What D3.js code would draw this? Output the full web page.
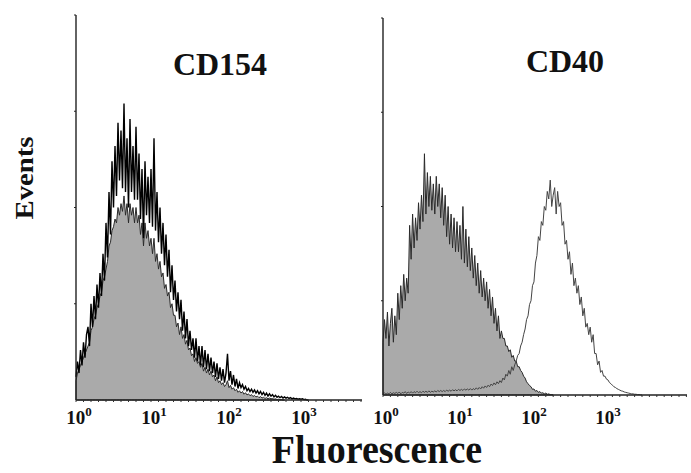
<!DOCTYPE html>
<html lang="en">
<head>
  <meta charset="UTF-8">
  <title>CD154 / CD40 histograms</title>
  <style>
    body { margin: 0; padding: 0; background: #fff; }
    svg { display: block; }
    text { font-family: "Liberation Serif", "Times New Roman", serif; font-weight: bold; fill: #111; }
  </style>
</head>
<body>
<svg width="691" height="473"></svg>
<script src="https://d3js.org/d3.v7.min.js"></script>
<script>
// channel width in decades of fluorescence (log10)
const binStep = 0.02;

// % of max events, one value per channel starting at 10^0
const cd154Control = [
  5, 7, 8, 9, 10, 11, 12, 13, 14, 15,
  18, 19, 21, 22, 24, 25, 27, 28, 31, 32,
  34, 36, 40, 41, 44, 45, 47, 46, 50, 48,
  51, 49, 53, 48, 51, 46, 51, 48, 50, 46,
  50, 46, 48, 43, 46, 40, 46, 42, 44, 40,
  42, 38, 42, 36, 38, 34, 36, 32, 33, 29,
  30, 27, 28, 24, 25, 22, 22, 19, 20, 17,
  19, 16, 17, 14.5, 15.5, 13, 13.5, 11.5, 12, 10,
  11, 9.5, 10, 8.5, 9.5, 7.5, 8.5, 7, 8, 6.5,
  7.5, 6, 6.5, 5, 6, 4.5, 5, 4, 4.5, 3.5,
  4, 5, 3.2, 3.8, 2.8, 3.2, 2.4, 2.8, 2, 2.4,
  1.8, 2.2, 1.5, 1.9, 1.3, 1.6, 1.1, 1.4, 0.9, 1.2,
  0.8, 1, 0.6, 0.9, 0.5, 0.7, 0.4, 0.6, 0.3, 0.5,
  0.3, 0.4, 0.2, 0.3, 0.1, 0.2, 0.1, 0.1, 0, 0];
const cd154Stain = [
  6, 10, 7, 13, 9, 15, 11, 17, 19, 14,
  25, 19, 27, 21, 30, 24, 33, 27, 38, 31,
  46, 37, 54, 43, 62, 50, 66, 53, 72, 57,
  70, 55, 77, 54, 68, 50, 73, 54, 66, 52,
  71, 52, 64, 47, 60, 42, 62, 48, 58, 46,
  60, 45, 68, 44, 54, 41, 50, 38, 46, 35,
  43, 32, 39, 28, 35, 26, 31, 23, 28, 21,
  26, 18, 23, 16, 21, 14, 18, 13, 16, 11,
  16, 10, 14, 9, 14, 8.5, 13, 8, 12, 7.5,
  11, 7, 10, 6, 9.5, 5.5, 8.5, 5, 8, 4.5,
  7, 12, 5, 7.5, 4, 6.5, 3.5, 5.5, 3, 4.5,
  3.2, 4, 2.8, 3.5, 2.4, 3, 2.2, 2.8, 2, 2.6,
  1.8, 2.4, 1.6, 2.2, 1.4, 2, 1.2, 1.8, 1, 1.6,
  1, 1.4, 0.8, 1.2, 0.7, 1, 0.6, 0.9, 0.5, 0.8,
  0.5, 0.7, 0.4, 0.6, 0.3, 0.5, 0.3, 0.4, 0.2, 0.3,
  0.2, 0.3, 0.1, 0.2, 0, 0];

const cd40Control = [
  14, 20, 15, 22, 13, 19, 23, 14, 21, 16,
  27, 20, 29, 23, 32, 25, 31, 27, 45, 36,
  48, 39, 47, 41, 51, 44, 53, 46, 64, 48,
  59, 50, 58, 49, 56, 48, 58, 50, 56, 47,
  55, 45, 53, 42, 50, 40, 48, 39, 47, 38,
  46, 38, 45, 36, 50, 35, 44, 34, 42, 33,
  39, 31, 37, 29, 35, 27, 33, 26, 31, 25,
  30, 23, 28, 21, 26, 19, 23, 17, 21, 15,
  17, 15, 15, 13, 13, 11.5, 12, 10, 10.5, 9,
  9, 7.5, 7.5, 6.5, 6, 5, 4.5, 3.5, 3, 2.5,
  2.2, 1.5, 1.6, 1, 1.2, 0.7, 0.9, 0.5, 0.6, 0.3,
  0.5, 0.2, 0.3, 0.1, 0.1, 0];
const cd40Stain = [
  0.3, 0.6, 0.2, 0.5, 0.3, 0.7, 0.3, 0.6, 0.4, 0.7,
  0.4, 0.8, 0.3, 0.7, 0.5, 0.9, 0.4, 0.8, 0.5, 0.9,
  0.5, 0.9, 0.6, 1, 0.6, 0.9, 0.6, 1, 0.7, 1,
  0.7, 1.1, 0.7, 1, 0.8, 1.1, 0.8, 1.2, 0.9, 1.2,
  0.9, 1.2, 0.9, 1.3, 1, 1.3, 1, 1.4, 1.1, 1.4,
  1.1, 1.5, 1.2, 1.5, 1.2, 1.6, 1.3, 1.6, 1.3, 1.7,
  1.3, 1.7, 1.4, 1.9, 1.5, 2, 1.6, 2.2, 1.8, 2.4,
  2, 2.6, 2.2, 2.9, 2.5, 3.2, 2.7, 3.5, 3, 3.8,
  3.3, 4.5, 4, 5.5, 5, 6.5, 5.5, 7.5, 6.5, 8,
  9, 10.5, 11, 13, 14, 16, 17.5, 20, 21, 24,
  25, 29, 30, 35, 37, 42, 41, 46, 45, 50,
  49, 54, 52, 57, 50, 53, 55, 48, 54, 50,
  51, 45, 46, 40, 41, 36, 38, 32, 35, 29,
  31, 27, 29, 24, 26, 21, 23, 18, 19, 16,
  18, 14, 16, 11, 11, 8, 9, 6, 6.5, 5,
  5, 4.2, 4, 3.3, 3, 2.6, 2.2, 2, 1.7, 1.5,
  1.3, 1.1, 1, 0.8, 0.7, 0.6, 0.5, 0.4, 0.3, 0.3,
  0.2, 0.2, 0.1, 0.1, 0.05, 0];

const decadeExponents = [0, 1, 2, 3];
const panelTitles = ["CD154", "CD40"];

const svg = d3.select("svg");

const panels = [
  {title: panelTitles[0], x0: 76, x1: 362, decade: 75, top: 15, base: 400, titleX: 220, titleY: 75,
   filled: cd154Control, open: cd154Stain, openColor: "#000", openWidth: 1.4},
  {title: panelTitles[1], x0: 383, x1: 687, decade: 74, top: 18, base: 395, titleX: 565, titleY: 72,
   filled: cd40Control, open: cd40Stain, openColor: "#444", openWidth: 1}
];

panels.forEach(p => {
  const maxDec = (p.x1 - p.x0) / p.decade;
  const x = d3.scaleLog().domain([1, Math.pow(10, maxDec)]).range([p.x0, p.x1]);
  const y = d3.scaleLinear().domain([0, 100]).range([p.base, p.top]);
  const g = svg.append("g");

  const pts = arr => arr.map((v, i) => [x(Math.pow(10, i * binStep)), v]);

  const area = d3.area().x(d => d[0]).y0(y(0)).y1(d => y(d[1]));
  const line = d3.line().x(d => d[0]).y(d => y(d[1]));

  g.append("path")
    .datum(pts(p.filled))
    .attr("d", area)
    .attr("fill", "#aaaaaa")
    .attr("stroke", "#2a2a2a")
    .attr("stroke-width", 1);

  g.append("path")
    .datum(pts(p.open))
    .attr("d", line)
    .attr("fill", "none")
    .attr("stroke", p.openColor)
    .attr("stroke-width", p.openWidth);

  // axes
  g.append("line")
    .attr("x1", p.x0).attr("x2", p.x0)
    .attr("y1", y(0)).attr("y2", y(100))
    .attr("stroke", "#222").attr("stroke-width", 1.4);
  g.append("line")
    .attr("x1", p.x0).attr("x2", p.x1)
    .attr("y1", y(0)).attr("y2", y(0))
    .attr("stroke", "#222").attr("stroke-width", 1.4);

  // y ticks at quarters
  g.selectAll(".yt").data([25, 50, 75, 100]).enter().append("line")
    .attr("x1", p.x0 - 2).attr("x2", p.x0)
    .attr("y1", d => y(d)).attr("y2", d => y(d))
    .attr("stroke", "#222").attr("stroke-width", 1);

  // minor ticks along the x axis every 0.1 decade
  g.selectAll(".xt").data(d3.range(0, maxDec, 0.1)).enter().append("line")
    .attr("x1", d => x(Math.pow(10, d))).attr("x2", d => x(Math.pow(10, d)))
    .attr("y1", y(0)).attr("y2", y(0) + 2)
    .attr("stroke", "#333").attr("stroke-width", 1);

  // decade labels
  const lab = g.selectAll(".xl").data(decadeExponents).enter().append("text")
    .attr("x", d => x(Math.pow(10, d)) + 3)
    .attr("y", 424)
    .attr("text-anchor", "middle")
    .style("font-size", "19px");
  lab.append("tspan").text("10");
  lab.append("tspan").attr("dy", -8).style("font-size", "13px").text(d => d);

  g.append("text")
    .attr("x", p.titleX).attr("y", p.titleY)
    .attr("text-anchor", "middle")
    .style("font-size", "32px")
    .text(p.title);
});

svg.append("text")
  .attr("transform", "translate(33,178) scale(1,1.15) rotate(-90)")
  .attr("text-anchor", "middle")
  .style("font-size", "25px")
  .text("Events");

svg.append("text")
  .attr("transform", "translate(377,463) scale(1,1.05)")
  .attr("text-anchor", "middle")
  .style("font-size", "38px")
  .text("Fluorescence");
</script>
</body>
</html>
